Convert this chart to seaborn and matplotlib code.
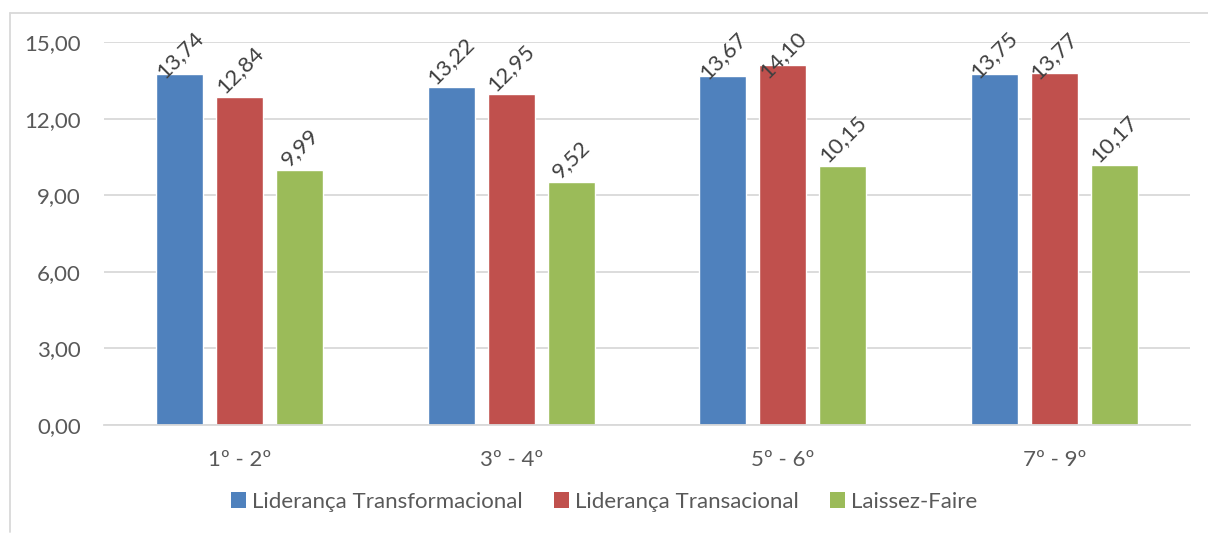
import matplotlib
matplotlib.use("Agg")
import matplotlib.pyplot as plt
from matplotlib.lines import Line2D
from matplotlib.patches import Patch
import seaborn as sns
import pandas as pd

categories = ["1º - 2º", "3º - 4º", "5º - 6º", "7º - 9º"]
series_names = ["Liderança Transformacional", "Liderança Transacional", "Laissez-Faire"]
transformacional = [13.74, 13.22, 13.67, 13.75]
transacional = [12.84, 12.95, 14.10, 13.77]
laissez_faire = [9.99, 9.52, 10.15, 10.17]
y_ticks = [0, 3, 6, 9, 12, 15]
colors = ["#4F81BD", "#C0504D", "#9BBB59"]

rows = []
for name, vals in zip(series_names, [transformacional, transacional, laissez_faire]):
    for c, v in zip(categories, vals):
        rows.append({"cat": c, "serie": name, "valor": v})
df = pd.DataFrame(rows)

sns.set_theme(style="white")
plt.rcParams['font.family'] = ['Lato', 'DejaVu Sans']
txt = "#595959"
fs = 16

fig = plt.figure(figsize=(12.08, 5.35), dpi=100)
W, H = 1208, 535
ax = fig.add_axes([104 / W, 1 - 425 / H, (1190 - 104) / W, (425 - 42) / H])

sns.barplot(data=df, x="cat", y="valor", hue="serie", palette=colors,
            width=0.663, gap=0.217, ax=ax, legend=False, errorbar=None,
            saturation=1)

ax.set_ylim(0, 15)
ax.set_xlim(-0.5, len(categories) - 0.5)
ax.set_yticks(y_ticks)
ax.set_yticklabels([f"{t:.2f}".replace(".", ",") for t in y_ticks])
ax.yaxis.grid(True, color="#D9D9D9", linewidth=1.3)
ax.set_axisbelow(True)
for s in ["top", "right", "left"]:
    ax.spines[s].set_visible(False)
ax.spines["bottom"].set_color("#D9D9D9")
ax.spines["bottom"].set_linewidth(1.3)
ax.tick_params(axis="both", length=0, colors=txt, labelsize=fs)
ax.tick_params(axis="y", pad=16.5)
ax.tick_params(axis="x", pad=18)
ax.set_xlabel("")
ax.set_ylabel("")

# data labels
fig.canvas.draw()
renderer = fig.canvas.get_renderer()
top_limit_px = fig.bbox.height - 28  # keep labels inside chart area
for cont in ax.containers:
    for bar in cont:
        h = bar.get_height()
        x = bar.get_x() + bar.get_width() / 2
        t = ax.text(x, h, f"{h:.2f}".replace(".", ","), rotation=45,
                    ha="center", va="bottom", color="#404040", fontsize=fs)
        bb = t.get_window_extent(renderer)
        if bb.y1 > top_limit_px:
            shift = bb.y1 - top_limit_px
            xd, yd = ax.transData.transform((x, h))
            newy = ax.transData.inverted().transform((xd, yd - shift))[1]
            t.set_position((x, newy))

handles = [Patch(facecolor=c, edgecolor="none") for c in colors]
fig.legend(handles, series_names, loc="center", bbox_to_anchor=(0.5, 1 - 502 / H),
           ncol=3, frameon=False, fontsize=fs, labelcolor=txt,
           handlelength=0.7, handleheight=0.7, handletextpad=0.25,
           columnspacing=1.4)

# chart border
fig.add_artist(Line2D([10 / W, 1], [1 - 13 / H, 1 - 13 / H], color="#D9D9D9", lw=1.3))
fig.add_artist(Line2D([10 / W, 10 / W], [1 - 13 / H, 0.005], color="#D9D9D9", lw=1.3))

fig.savefig("out.png", dpi=100)
